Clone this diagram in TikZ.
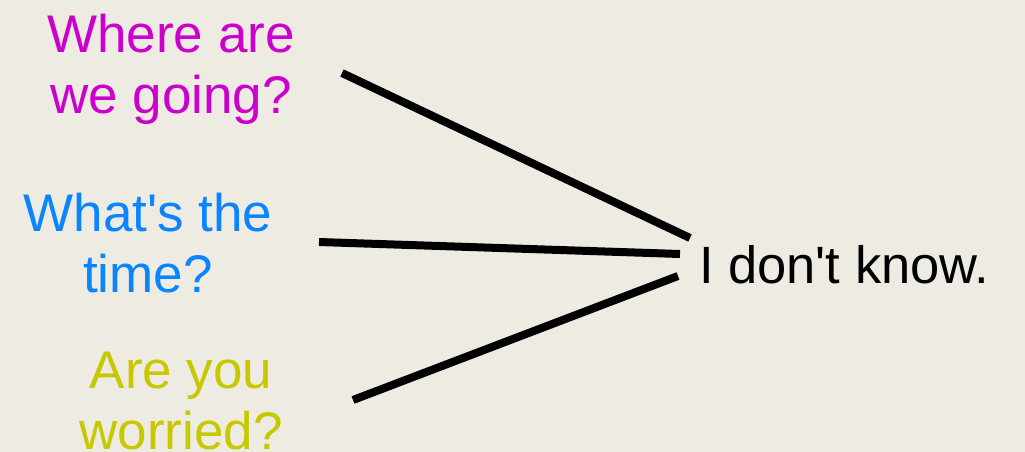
\documentclass[tikz,border=0pt]{standalone}
\usepackage{fontspec}
\setmainfont{Liberation Sans}
\definecolor{bg}{HTML}{EEEBE3}
\definecolor{qmag}{HTML}{CC00CC}
\definecolor{qblue}{HTML}{0A84FF}
\definecolor{qyel}{HTML}{C8C800}
\begin{document}
\begin{tikzpicture}[x=1pt,y=-1pt,
  qtext/.style={align=center,inner sep=0pt,anchor=base,font=\fontsize{53}{61}\selectfont},
  atext/.style={inner sep=0pt,anchor=base west,font=\fontsize{52.5}{61}\selectfont},
  link/.style={line width=8pt,black}]
\fill[bg] (0,0) rectangle (1025,452);
\useasboundingbox (0,0) rectangle (1025,452);
\node[qtext,text=qmag] (q1) at (171,113) {Where are\\we going?};
\node[qtext,text=qblue] (q2) at (148,292) {What\textquotesingle s the\\time?};
\node[qtext,text=qyel] (q3) at (181,449) {Are you\\worried?};
\node[atext] (ans) at (699,283) {I don\textquotesingle t know.};
\coordinate (s1) at (342,73);
\coordinate (e1) at (690,238);
\coordinate (s2) at (319,242);
\coordinate (e2) at (680,254);
\coordinate (s3) at (353,400);
\coordinate (e3) at (678,276);
\draw[link] (s1) -- (e1);
\draw[link] (s2) -- (e2);
\draw[link] (s3) -- (e3);
\end{tikzpicture}
\end{document}
